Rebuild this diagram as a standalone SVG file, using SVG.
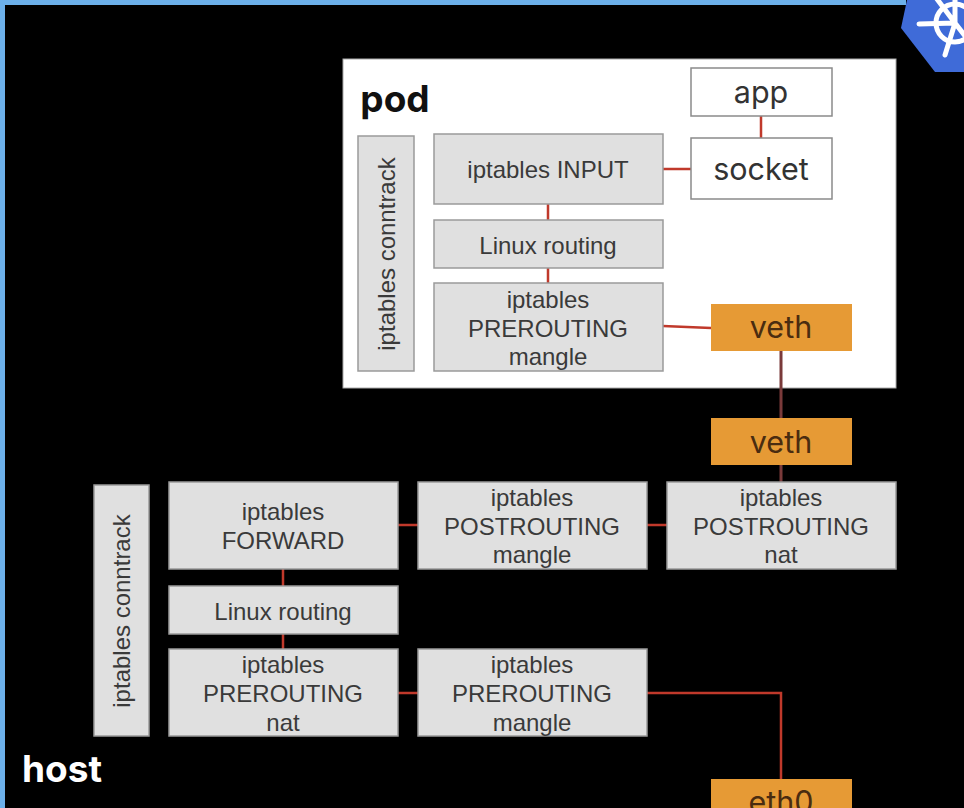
<svg xmlns="http://www.w3.org/2000/svg" width="964" height="808" viewBox="0 0 964 808">
<style>
.g{fill:#e0e0e0;stroke:#9a9a9a;stroke-width:1.5}
.w{fill:#fff;stroke:#8a8a8a;stroke-width:1.5}
.o{fill:#e69a35}
.t{font-family:"Liberation Sans",Arial,sans-serif;font-size:24px;fill:#3a3a3a;text-anchor:middle}
.m{font-family:Inter,"Open Sans",sans-serif;font-size:30.5px;fill:#333;text-anchor:middle}
.v{font-family:Inter,"Open Sans",sans-serif;font-size:30.5px;fill:#4a2c10;text-anchor:middle}
.b{font-family:Inter,"Open Sans",sans-serif;font-weight:700;font-size:37px;text-anchor:middle}
.c{fill:none;stroke:#c0392b;stroke-width:2.5}
.d{fill:none;stroke:#7a3a3a;stroke-width:3}
</style>
<rect width="964" height="808" fill="#000"/>
<rect x="0" y="0" width="5" height="808" fill="#6cb0ea"/>
<rect x="0" y="0" width="906" height="5" fill="#6cb0ea"/>
<g id="k8s-logo">
<path d="M907 0L901 28L935 72H964V0Z" fill="#3f6bd8"/>
<g fill="none" stroke="#fff" stroke-width="5" stroke-linecap="round"><circle cx="955" cy="23" r="19"/><path d="M955 23L919 24M955 23L945 55M955 23L934 -5M955 23L976 50M955 23V-10"/></g>
</g>
<g id="pod-container"><rect x="343" y="59" width="553" height="329" fill="#fff" stroke="#aaa"/><text class="b" x="395" y="112" fill="#111">pod</text></g>
<g id="host-label"><text class="b" x="62" y="782" fill="#fff">host</text></g>
<g id="connectors">
<path class="c" d="M761 116V138M663 169H691M548 204V220M548 268V283M663 326L711 328M398 525H418M647 525H667M283 569V586M283 634V649M398 693H418"/>
<path class="d" d="M781 351V418M781 465V482"/>
<path class="c" d="M647 693H781V779"/>
</g>
<g id="app"><rect class="w" x="691" y="68" width="141" height="48"/><text class="m" x="761" y="103">app</text></g>
<g id="socket"><rect class="w" x="691" y="138" width="141" height="61"/><text class="m" x="761" y="180">socket</text></g>
<g id="pod-conntrack"><rect class="g" x="358" y="136" width="56" height="235"/><text class="t" transform="translate(395 254) rotate(-90)">iptables conntrack</text></g>
<g id="pod-input"><rect class="g" x="434" y="134" width="229" height="70"/><text class="t" x="548" y="178">iptables INPUT</text></g>
<g id="pod-routing"><rect class="g" x="434" y="220" width="229" height="48"/><text class="t" x="548" y="254">Linux routing</text></g>
<g id="pod-prerouting"><rect class="g" x="434" y="283" width="229" height="88"/><text class="t" x="548" y="308">iptables</text><text class="t" x="548" y="337">PREROUTING</text><text class="t" x="548" y="365">mangle</text></g>
<g id="pod-veth"><rect class="o" x="711" y="304" width="141" height="47"/><text class="v" x="781" y="338">veth</text></g>
<g id="host-veth"><rect class="o" x="711" y="418" width="141" height="47"/><text class="v" x="781" y="453">veth</text></g>
<g id="host-post-nat"><rect class="g" x="667" y="482" width="229" height="87"/><text class="t" x="781" y="506">iptables</text><text class="t" x="781" y="535">POSTROUTING</text><text class="t" x="781" y="563">nat</text></g>
<g id="host-post-mangle"><rect class="g" x="418" y="482" width="229" height="87"/><text class="t" x="532" y="506">iptables</text><text class="t" x="532" y="535">POSTROUTING</text><text class="t" x="532" y="563">mangle</text></g>
<g id="host-forward"><rect class="g" x="169" y="482" width="229" height="87"/><text class="t" x="283" y="520">iptables</text><text class="t" x="283" y="549">FORWARD</text></g>
<g id="host-conntrack"><rect class="g" x="94" y="485" width="55" height="251"/><text class="t" transform="translate(130 611) rotate(-90)">iptables conntrack</text></g>
<g id="host-routing"><rect class="g" x="169" y="586" width="229" height="48"/><text class="t" x="283" y="620">Linux routing</text></g>
<g id="host-pre-nat"><rect class="g" x="169" y="649" width="229" height="87"/><text class="t" x="283" y="673">iptables</text><text class="t" x="283" y="702">PREROUTING</text><text class="t" x="283" y="731">nat</text></g>
<g id="host-pre-mangle"><rect class="g" x="418" y="649" width="229" height="87"/><text class="t" x="532" y="673">iptables</text><text class="t" x="532" y="702">PREROUTING</text><text class="t" x="532" y="731">mangle</text></g>
<g id="eth0"><rect class="o" x="711" y="779" width="141" height="40"/><text class="v" x="781" y="813">eth0</text></g>
</svg>
